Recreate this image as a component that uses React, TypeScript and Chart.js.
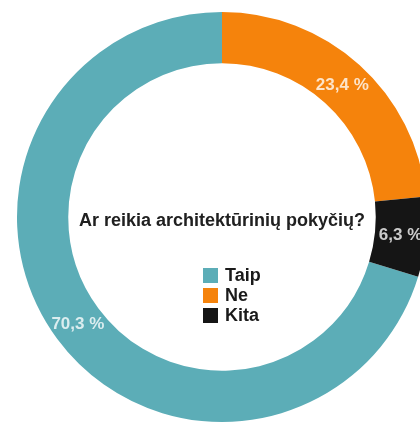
import React, { useEffect, useRef } from "react";
import { Chart, registerables } from "chart.js";

Chart.register(...registerables);

const categories: string[] = ["Taip", "Ne", "Kita"];
const shares: number[] = [70.3, 23.4, 6.3];
const valueLabels: string[] = ["70,3 %", "23,4 %", "6,3 %"];
const sliceColors: string[] = ["#5cadb7", "#f5830c", "#151515"];
const centerTitle = "Ar reikia architektūrinių pokyčių?";

const FONT = '"Liberation Sans", Arial, sans-serif';

const overlayPlugin = {
  id: "overlay",
  afterDatasetsDraw(chart: any) {
    const ctx: CanvasRenderingContext2D = chart.ctx;
    const meta = chart.getDatasetMeta(0);
    ctx.save();
    // value labels on each slice
    ctx.font = `bold 17px ${FONT}`;
    ctx.textAlign = "center";
    ctx.textBaseline = "middle";
    meta.data.forEach((arc: any, i: number) => {
      const p = arc.getCenterPoint();
      ctx.fillStyle = "rgba(255,255,255,0.78)";
      ctx.fillText(valueLabels[i], p.x, p.y + 1);
    });
    const c = meta.data[0];
    const cx = c.x;
    const cy = c.y;
    // center title
    ctx.fillStyle = "#202020";
    ctx.font = `bold 18px ${FONT}`;
    ctx.fillText(centerTitle, cx, cy + 4);
    // legend
    ctx.textAlign = "left";
    const left = cx - 19;
    const top = cy + 51;
    categories.forEach((name, i) => {
      const y = top + i * 20;
      ctx.fillStyle = sliceColors[i];
      ctx.fillRect(left, y, 15, 15);
      ctx.fillStyle = "#1a1a1a";
      ctx.font = `bold 18px ${FONT}`;
      ctx.fillText(name, left + 22, y + 8);
    });
    ctx.restore();
  },
};

export default function App() {
  const ref = useRef<HTMLCanvasElement | null>(null);
  useEffect(() => {
    if (!ref.current) return;
    const total = shares.reduce((a, b) => a + b, 0);
    const startDeg = ((total - shares[0]) / total) * 360;
    const chart = new Chart(ref.current, {
      type: "doughnut",
      data: {
        labels: categories,
        datasets: [
          {
            data: shares,
            backgroundColor: sliceColors,
            borderWidth: 0,
          },
        ],
      },
      options: {
        animation: false,
        responsive: true,
        maintainAspectRatio: false,
        cutout: "75%",
        rotation: startDeg,
        layout: { padding: { left: 17, right: 17, top: 12, bottom: 12 } },
        plugins: {
          legend: { display: false },
          tooltip: { enabled: false },
          title: { display: false },
        },
      },
      plugins: [overlayPlugin],
    });
    return () => chart.destroy();
  }, []);
  return (
    <div
      style={{
        position: "fixed",
        left: 0,
        top: 0,
        width: 420,
        height: 422,
        overflow: "hidden",
        background: "#ffffff",
      }}
    >
      <div style={{ position: "relative", width: 444, height: 434 }}>
        <canvas ref={ref} />
      </div>
    </div>
  );
}
